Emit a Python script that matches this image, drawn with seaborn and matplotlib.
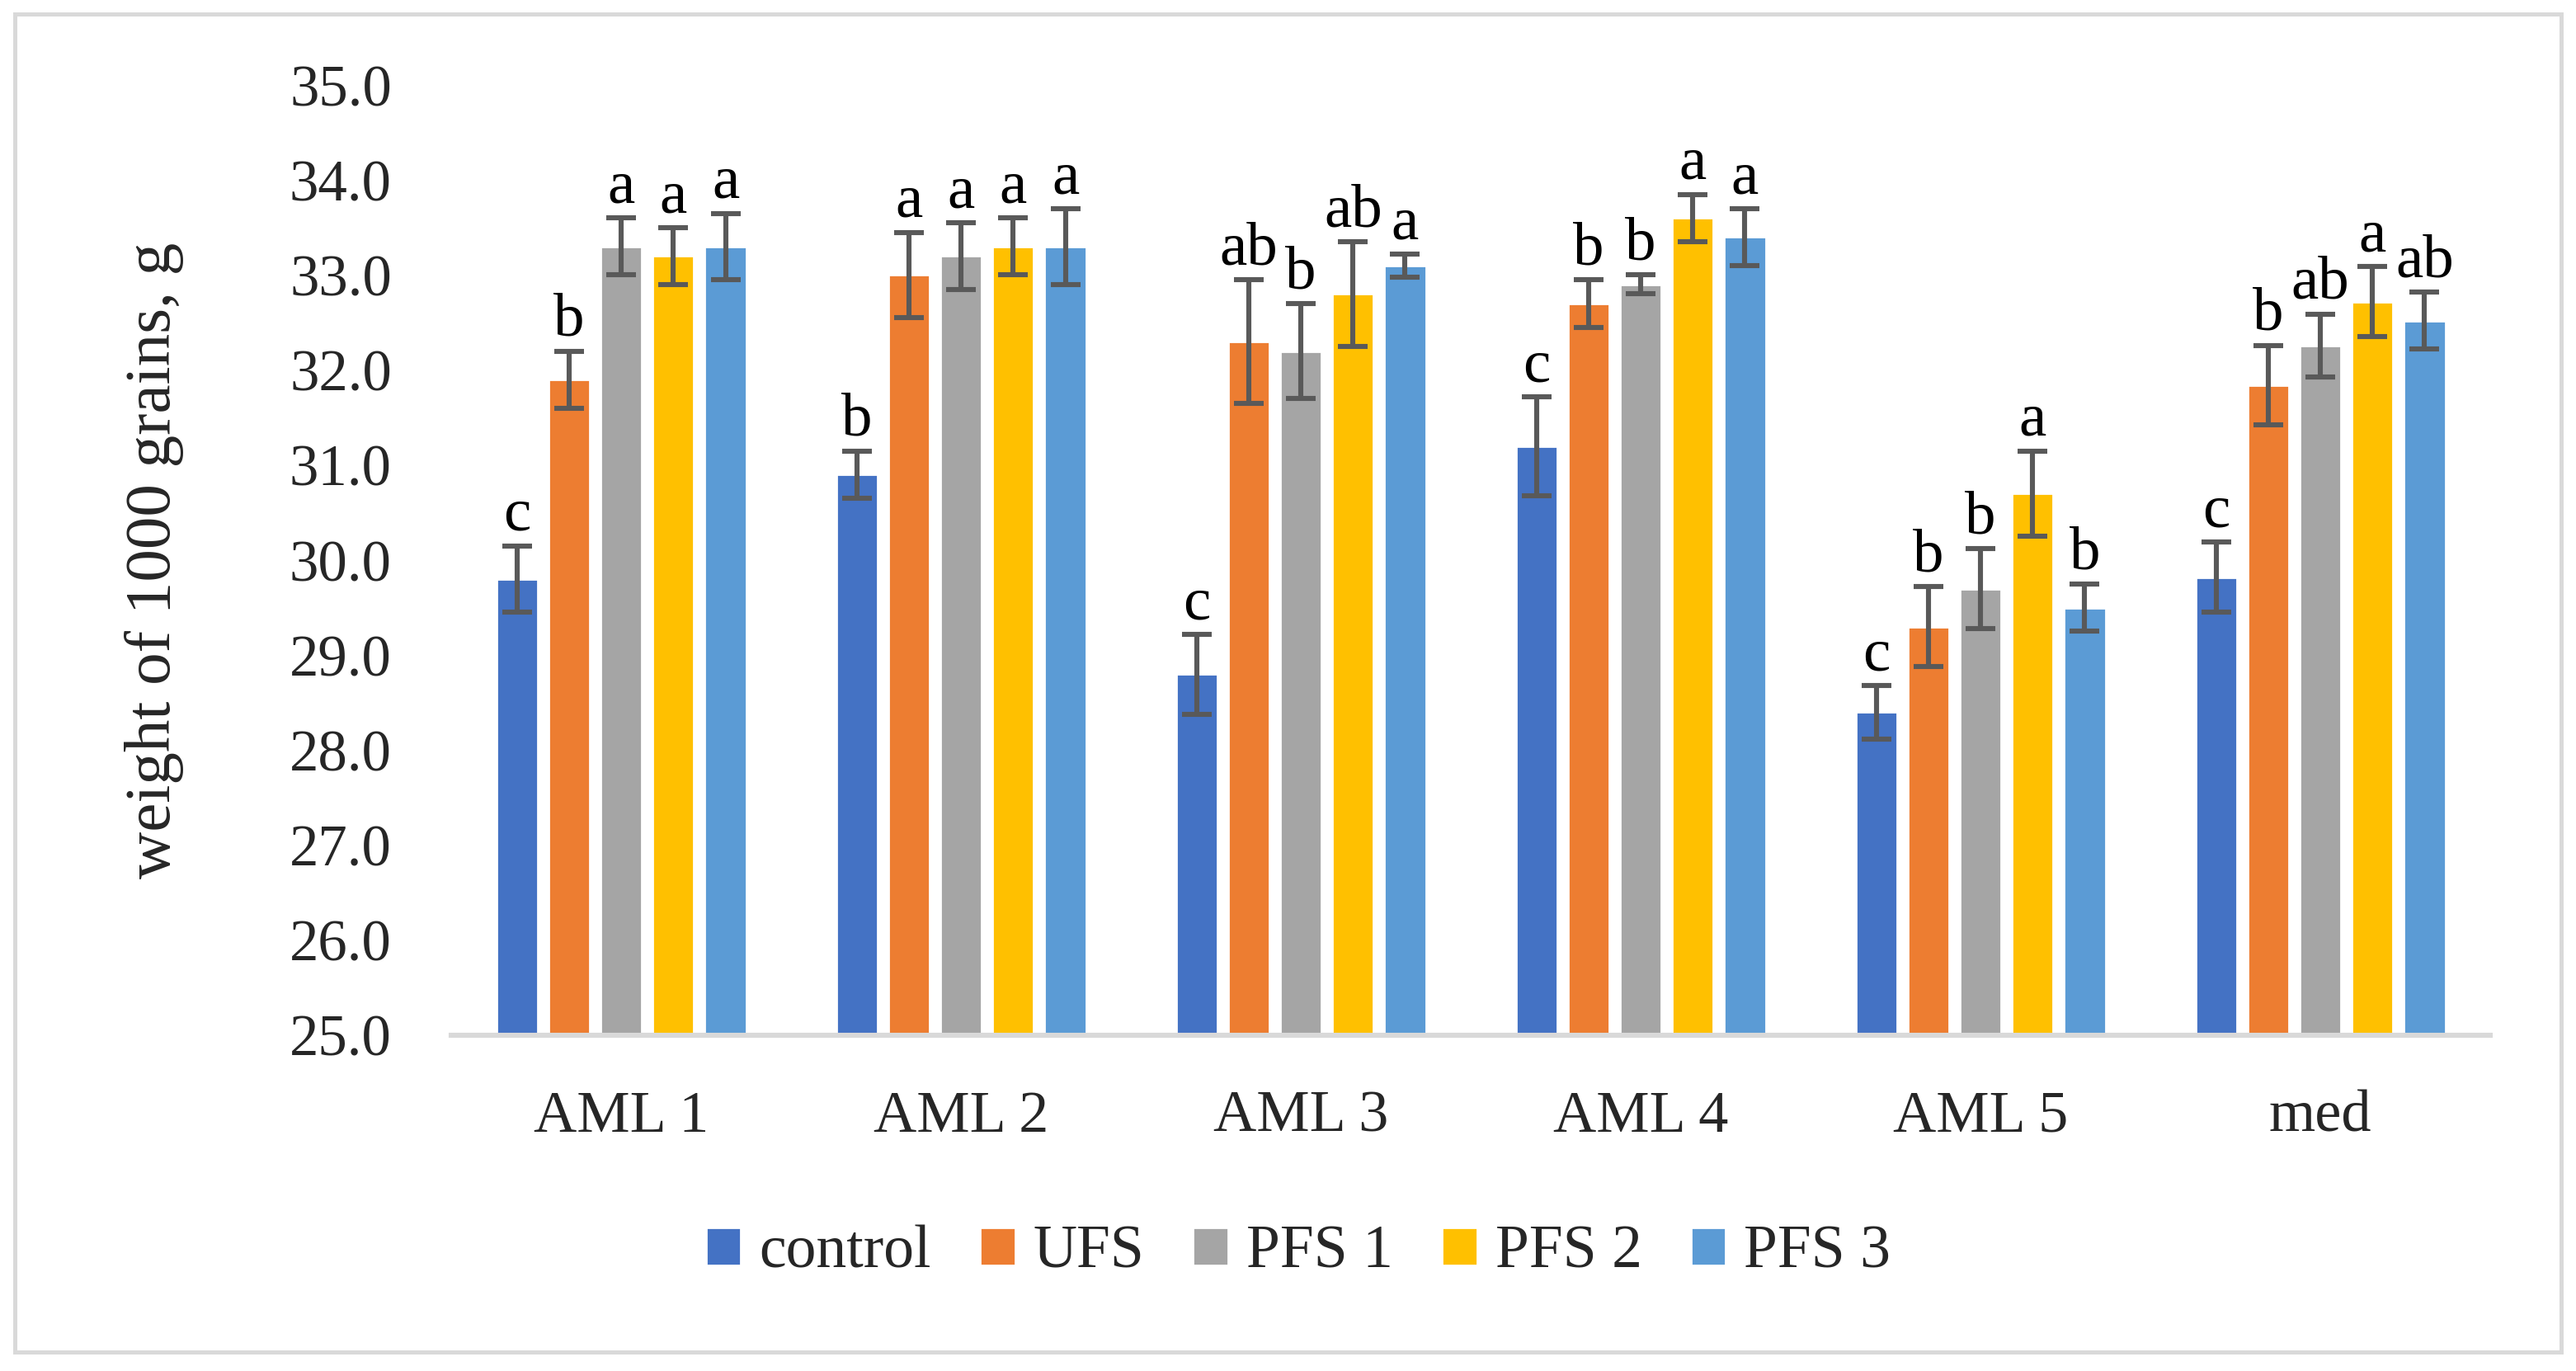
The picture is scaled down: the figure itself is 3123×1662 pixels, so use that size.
import matplotlib
matplotlib.use("Agg")
import matplotlib.pyplot as plt
import seaborn as sns
import pandas as pd
from matplotlib.patches import Rectangle

categories = ["AML 1", "AML 2", "AML 3", "AML 4", "AML 5", "med"]
treatments = ["control", "UFS", "PFS 1", "PFS 2", "PFS 3"]

control = [29.8, 30.9, 28.8, 31.2, 28.4, 29.82]
ufs     = [31.9, 33.0, 32.3, 32.7, 29.3, 31.84]
pfs1    = [33.3, 33.2, 32.2, 32.9, 29.7, 32.26]
pfs2    = [33.2, 33.3, 32.8, 33.6, 30.7, 32.72]
pfs3    = [33.3, 33.3, 33.1, 33.4, 29.5, 32.52]

err_control = [0.35, 0.25, 0.42, 0.52, 0.28, 0.37]
err_ufs     = [0.30, 0.45, 0.65, 0.25, 0.42, 0.42]
err_pfs1    = [0.30, 0.35, 0.50, 0.10, 0.42, 0.33]
err_pfs2    = [0.30, 0.30, 0.55, 0.25, 0.45, 0.37]
err_pfs3    = [0.35, 0.40, 0.12, 0.30, 0.25, 0.30]

let_control = ["c", "b", "c", "c", "c", "c"]
let_ufs     = ["b", "a", "ab", "b", "b", "b"]
let_pfs1    = ["a", "a", "b", "b", "b", "ab"]
let_pfs2    = ["a", "a", "ab", "a", "a", "a"]
let_pfs3    = ["a", "a", "a", "a", "b", "ab"]

colors = ["#4472C4", "#ED7D31", "#A5A5A5", "#FFC000", "#5B9BD5"]

values = [control, ufs, pfs1, pfs2, pfs3]
errors = [err_control, err_ufs, err_pfs1, err_pfs2, err_pfs3]
letters = [let_control, let_ufs, let_pfs1, let_pfs2, let_pfs3]

rows = []
for t, vals in zip(treatments, values):
    for c, v in zip(categories, vals):
        rows.append({"category": c, "treatment": t, "value": v})
df = pd.DataFrame(rows)

sns.set_theme(style="white")
plt.rcParams["font.family"] = ["Liberation Serif", "DejaVu Serif"]

fig = plt.figure(figsize=(3123 / 200, 1662 / 200), dpi=200)
ax = fig.add_axes([0.1752, 0.2449, 0.7915, 0.6931])

sns.barplot(data=df, x="category", y="value", hue="treatment",
            order=categories, hue_order=treatments, palette=colors,
            errorbar=None, width=0.767, gap=0.205, ax=ax, saturation=1,
            legend=True)

for cont, errs, lets in zip(ax.containers, errors, letters):
    for bar, e, l in zip(cont, errs, lets):
        xc = bar.get_x() + bar.get_width() / 2
        h = bar.get_height()
        ax.errorbar(xc, h, yerr=e, color="#595959", elinewidth=2.2,
                    capsize=6.5, capthick=2.2, fmt="none", zorder=5)
        ax.annotate(l, (xc, h + e), xytext=(0, 1), textcoords="offset points",
                    ha="center", va="bottom", fontsize=27, color="black")

ax.set_xlim(-0.5, len(categories) - 0.5)
ax.set_ylim(25, 35)
ax.set_yticks(range(25, 36))
ax.set_yticklabels([f"{v:.1f}" for v in range(25, 36)], fontsize=25.5)
ax.tick_params(axis="x", labelsize=26, pad=24, length=0)
ax.tick_params(axis="y", pad=26, length=0)
ax.set_xlabel("")
ax.set_ylabel("weight of 1000 grains, g", fontsize=28.5)
ax.yaxis.set_label_coords(-0.131, 0.5)
for s in ["top", "right", "left"]:
    ax.spines[s].set_visible(False)
ax.spines["bottom"].set_color("#d9d9d9")
ax.spines["bottom"].set_linewidth(2.2)

handles, labels = ax.get_legend_handles_labels()
ax.get_legend().remove()
fig.legend(handles, labels, loc="center", bbox_to_anchor=(0.504, 0.086),
           ncol=5, frameon=False, fontsize=26.5, handlelength=0.58,
           handleheight=0.58, handletextpad=0.3, columnspacing=0.8)

fig.patches.append(Rectangle((0.00576, 0.01384), 0.98848, 0.97593,
                             transform=fig.transFigure, fill=False,
                             edgecolor="#d9d9d9", linewidth=1.8))

fig.savefig("out.png", dpi=200)
